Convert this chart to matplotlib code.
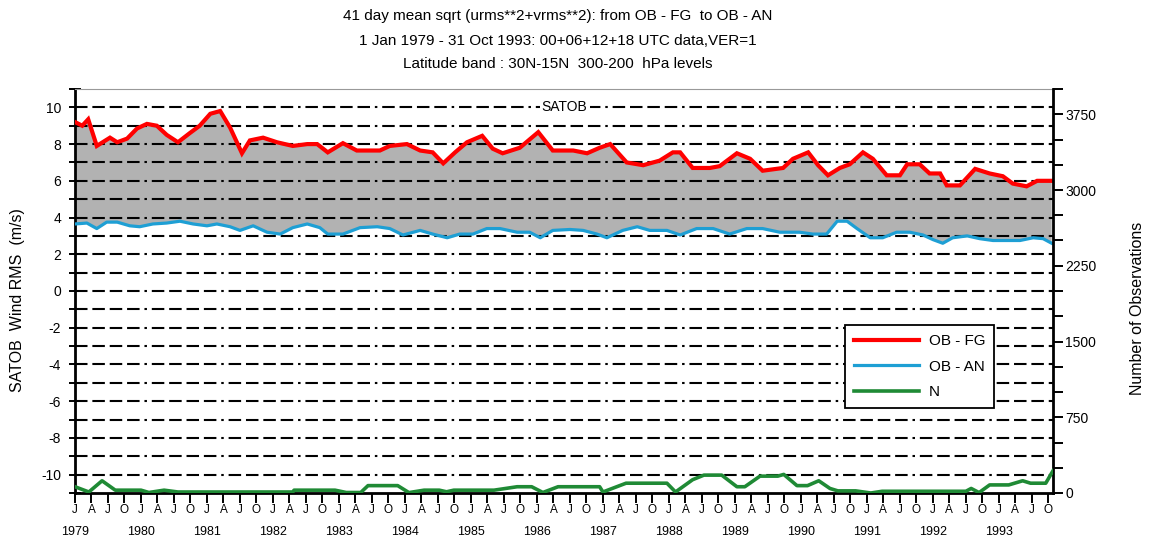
import numpy as np
import matplotlib
matplotlib.use("Agg")
import matplotlib.pyplot as plt
from matplotlib.transforms import blended_transform_factory

plt.rcParams["font.family"] = ["Liberation Sans", "DejaVu Sans"]
plt.rcParams["lines.scale_dashes"] = False
plt.rcParams["axes.unicode_minus"] = False

# ---- text -------------------------------------------------------------
title_lines = [
    "41 day mean sqrt (urms**2+vrms**2): from OB - FG  to OB - AN",
    "1 Jan 1979 - 31 Oct 1993: 00+06+12+18 UTC data,VER=1",
    "Latitude band : 30N-15N  300-200  hPa levels",
]
panel_name = "SATOB"
left_label = "SATOB  Wind RMS  (m/s)"
right_label = "Number of Observations"
series_names = ["OB - FG", "OB - AN", "N"]

years = list(range(1979, 1994))
quarter_letters = ["J", "A", "J", "O"]

# ---- data (time in decimal years) -------------------------------------
fg_time = [1979.00, 1979.11, 1979.20, 1979.33, 1979.53, 1979.64, 1979.79, 1979.94,
           1980.09, 1980.24, 1980.39, 1980.56, 1980.74, 1980.89, 1981.05, 1981.20,
           1981.35, 1981.53, 1981.65, 1981.85, 1982.06, 1982.30, 1982.52, 1982.67,
           1982.83, 1983.06, 1983.27, 1983.62, 1983.77, 1984.03, 1984.23, 1984.42,
           1984.58, 1984.76, 1984.94, 1985.17, 1985.33, 1985.48, 1985.74, 1986.02,
           1986.24, 1986.55, 1986.76, 1986.95, 1987.11, 1987.36, 1987.61, 1987.86,
           1988.06, 1988.17, 1988.36, 1988.62, 1988.77, 1989.03, 1989.23, 1989.42,
           1989.73, 1989.88, 1990.11, 1990.26, 1990.41, 1990.59, 1990.74, 1990.94,
           1991.09, 1991.30, 1991.50, 1991.61, 1991.80, 1991.95, 1992.11, 1992.21,
           1992.41, 1992.64, 1992.86, 1993.06, 1993.21, 1993.42, 1993.58, 1993.80]
fg_rms = [9.2, 9.0, 9.35, 7.9, 8.35, 8.1, 8.3, 8.85,
          9.1, 9.0, 8.5, 8.1, 8.6, 9.0, 9.65, 9.8,
          8.9, 7.5, 8.2, 8.35, 8.1, 7.9, 8.0, 8.0,
          7.55, 8.05, 7.65, 7.65, 7.9, 8.0, 7.65, 7.55,
          6.95, 7.55, 8.1, 8.45, 7.75, 7.5, 7.8, 8.65,
          7.65, 7.65, 7.5, 7.8, 8.0, 7.0, 6.85, 7.1,
          7.55, 7.55, 6.7, 6.7, 6.8, 7.5, 7.2, 6.55,
          6.7, 7.2, 7.55, 6.85, 6.3, 6.7, 6.9, 7.55,
          7.2, 6.3, 6.3, 6.9, 6.9, 6.4, 6.4, 5.75,
          5.75, 6.65, 6.4, 6.25, 5.85, 5.7, 6.0, 6.0]

an_time = [1979.00, 1979.18, 1979.33, 1979.48, 1979.64, 1979.83, 1979.98, 1980.18,
           1980.39, 1980.59, 1980.79, 1981.00, 1981.15, 1981.35, 1981.50, 1981.70,
           1981.91, 1982.11, 1982.30, 1982.52, 1982.71, 1982.83, 1983.06, 1983.32,
           1983.58, 1983.77, 1983.97, 1984.23, 1984.42, 1984.64, 1984.83, 1985.03,
           1985.24, 1985.44, 1985.70, 1985.89, 1986.05, 1986.24, 1986.50, 1986.70,
           1986.91, 1987.06, 1987.30, 1987.52, 1987.71, 1987.97, 1988.17, 1988.42,
           1988.67, 1988.92, 1989.18, 1989.42, 1989.68, 1989.98, 1990.18, 1990.39,
           1990.55, 1990.70, 1990.85, 1991.05, 1991.24, 1991.45, 1991.65, 1991.85,
           1992.00, 1992.15, 1992.30, 1992.52, 1992.71, 1992.91, 1993.12, 1993.32,
           1993.52, 1993.67, 1993.80]
an_rms = [3.65, 3.7, 3.4, 3.75, 3.75, 3.55, 3.5, 3.65,
          3.7, 3.8, 3.65, 3.55, 3.65, 3.5, 3.3, 3.55,
          3.2, 3.1, 3.45, 3.65, 3.45, 3.1, 3.1, 3.45,
          3.5, 3.4, 3.05, 3.3, 3.1, 2.9, 3.1, 3.1,
          3.4, 3.4, 3.2, 3.2, 2.9, 3.3, 3.35, 3.3,
          3.1, 2.9, 3.3, 3.5, 3.3, 3.3, 3.05, 3.4,
          3.4, 3.1, 3.4, 3.4, 3.2, 3.2, 3.1, 3.1,
          3.8, 3.8, 3.4, 2.9, 2.9, 3.2, 3.2, 3.05,
          2.8, 2.6, 2.9, 3.0, 2.85, 2.75, 2.75, 2.75,
          2.9, 2.85, 2.6]

n_time = [1979.00, 1979.21, 1979.41, 1979.61, 1980.00, 1980.12, 1980.35, 1980.56,
          1981.70, 1982.30, 1982.32, 1982.94, 1983.11, 1983.33, 1983.44, 1983.89,
          1984.06, 1984.29, 1984.52, 1984.63, 1984.74, 1985.35, 1985.70, 1985.92,
          1986.09, 1986.32, 1986.95, 1987.00, 1987.35, 1987.97, 1988.10, 1988.36,
          1988.53, 1988.80, 1989.03, 1989.15, 1989.38, 1989.65, 1989.74, 1989.94,
          1990.10, 1990.27, 1990.44, 1990.56, 1990.83, 1991.06, 1991.23, 1992.50,
          1992.58, 1992.70, 1992.86, 1993.15, 1993.36, 1993.48, 1993.71, 1993.82]
n_obs = [62, 10, 121, 28, 28, 5, 28, 10,
         10, 10, 28, 28, 5, 5, 73, 73,
         4, 28, 28, 12, 28, 28, 62, 62,
         5, 62, 62, 10, 97, 97, 10, 132,
         177, 177, 62, 62, 167, 167, 184, 73,
         73, 121, 45, 21, 21, 0, 17, 17,
         45, 4, 80, 80, 121, 97, 97, 220]

# ---- colours ----------------------------------------------------------
c_fg = "#ff0000"
c_an = "#1e9fd4"
c_n = "#1f8a35"
c_fill = "#b2b2b2"

W, H = 1152, 543
fig = plt.figure(figsize=(W / 100, H / 100), dpi=100)
ax = fig.add_axes([75 / W, 1 - 493 / H, 978 / W, 404 / H])

x0, x1 = 1979.0, 1993.82
ax.set_xlim(x0, x1)
ax.set_ylim(-11, 11)

# shaded band between the two RMS curves
poly_x = np.concatenate([fg_time, an_time[::-1]])
poly_y = np.concatenate([fg_rms, an_rms[::-1]])
ax.fill(poly_x, poly_y, color=c_fill, lw=0, zorder=1)

# dash-dot horizontal grid
grid_dashes = (9, 3.5, 9, 3.5, 9, 3.5, 9, 3.5, 1.8, 3.5)
for v in range(-10, 11):
    ax.axhline(v, color="black", lw=1.5, dashes=grid_dashes, zorder=2)

l_fg, = ax.plot(fg_time, fg_rms, color=c_fg, lw=3.0, zorder=4,
                solid_joinstyle="miter")
l_an, = ax.plot(an_time, an_rms, color=c_an, lw=2.3, zorder=3)

ax.text(1986.42, 10, panel_name, ha="center", va="center", fontsize=10,
        zorder=5, bbox=dict(facecolor="white", edgecolor="none", pad=1.5))

# left axis
ax.set_yticks(range(-10, 11, 2))
ax.set_yticks(range(-11, 12, 1), minor=True)
ax.tick_params(axis="y", which="both", direction="inout", length=8, width=1.4,
               labelsize=10, pad=6)
ax.tick_params(axis="y", which="minor", labelleft=False)

# bottom axis: quarterly ticks lettered J A J O, years underneath
q_pos = [y + q * 0.25 for y in years for q in range(4) if y + q * 0.25 <= x1]
q_lab = [quarter_letters[i % 4] for i in range(len(q_pos))]
ax.set_xticks(q_pos, q_lab)
ax.tick_params(axis="x", direction="out", length=7, width=1.4, labelsize=8.5,
               pad=1)
trans = blended_transform_factory(ax.transData, ax.transAxes)
for y in years:
    ax.text(y, -0.097, str(y), transform=trans, ha="center", va="center",
            fontsize=9)

for side in ["left", "bottom"]:
    ax.spines[side].set_linewidth(2)
ax.spines["top"].set_color("#999999")
ax.spines["top"].set_linewidth(0.8)
ax.spines["right"].set_visible(False)

# right axis: number of observations
ax2 = ax.twinx()
ax2.set_ylim(0, 4000)
l_n, = ax2.plot(n_time, n_obs, color=c_n, lw=2.6, zorder=3)
ax2.set_yticks(range(0, 3751, 750))
ax2.set_yticks(range(0, 4001, 250), minor=True)
ax2.tick_params(axis="y", which="both", direction="out", length=7, width=1.4,
                labelsize=10, pad=2)
for side in ["left", "bottom", "top"]:
    ax2.spines[side].set_visible(False)
ax2.spines["right"].set_linewidth(2)

leg = ax2.legend([l_fg, l_an, l_n], series_names, loc="upper left",
                 bbox_to_anchor=(0.779, 0.435), fancybox=False,
                 edgecolor="black", framealpha=1, fontsize=11,
                 handlelength=4.3, handletextpad=0.6, labelspacing=0.75,
                 borderpad=0.6)
leg.get_frame().set_linewidth(1.3)

# axis titles and heading
fig.text(18 / W, 1 - 300 / H, left_label, rotation=90, ha="center",
         va="center", fontsize=11.5)
fig.text(1137 / W, 1 - 308 / H, right_label, rotation=90, ha="center",
         va="center", fontsize=11.5)
for line, yy in zip(title_lines, [16, 41, 64]):
    fig.text(558 / W, 1 - yy / H, line, ha="center", va="center", fontsize=11)

fig.savefig("out.png", dpi=100)
